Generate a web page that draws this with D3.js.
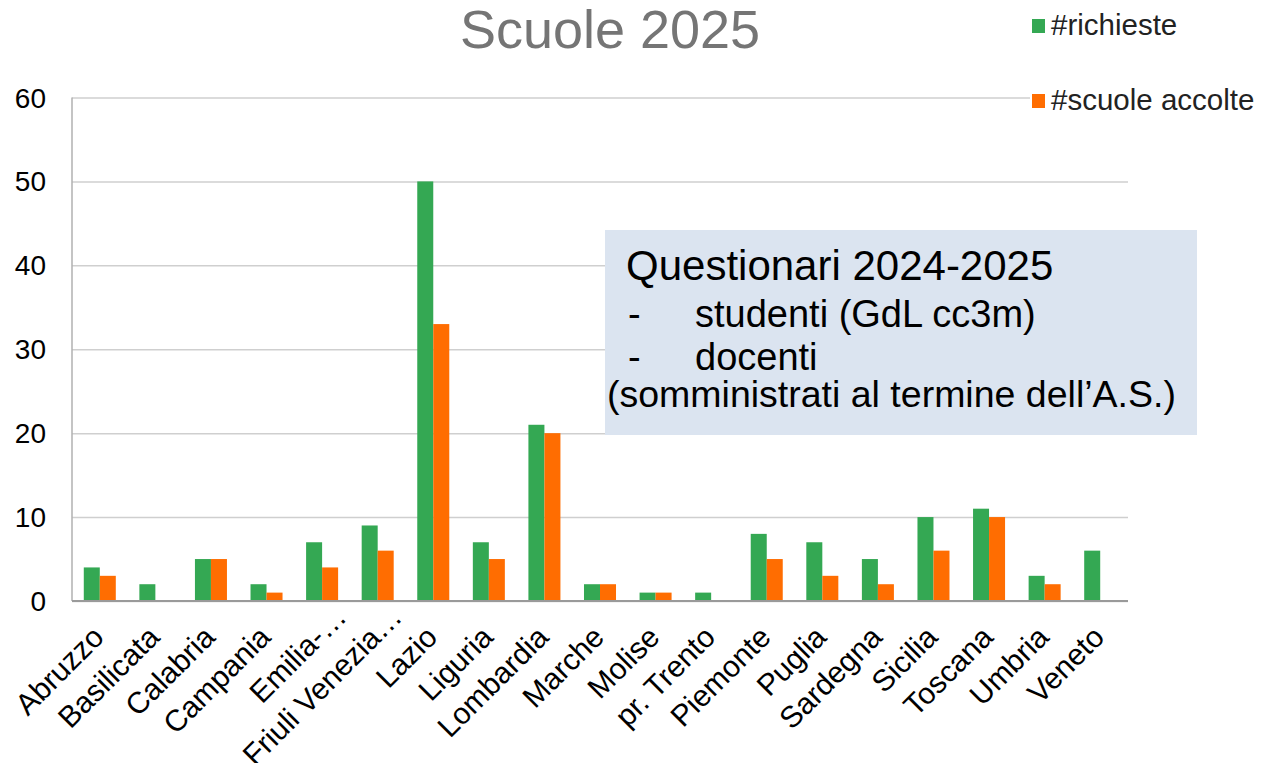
<!DOCTYPE html>
<html lang="it">
<head>
  <meta charset="UTF-8">
  <title>Scuole 2025</title>
  <script src="https://d3js.org/d3.v7.min.js"></script>
  <style>
    body { margin: 0; background: #fff; }
    text { font-family: "Liberation Sans", Arial, Helvetica, sans-serif; }
    .grid line { stroke: #cfcfcf; stroke-width: 1.5; }
    .grid path { display: none; }
  </style>
</head>
<body>
<div id="chart"></div>
<script>
// data
var categories = ["Abruzzo", "Basilicata", "Calabria", "Campania", "Emilia-\u2026",
  "Friuli Venezia\u2026", "Lazio", "Liguria", "Lombardia", "Marche", "Molise",
  "pr. Trento", "Piemonte", "Puglia", "Sardegna", "Sicilia", "Toscana", "Umbria", "Veneto"];
var richieste = [4, 2, 5, 2, 7, 9, 50, 7, 21, 2, 1, 1, 8, 7, 5, 10, 11, 3, 6];
var accolte   = [3, 0, 5, 1, 4, 6, 33, 5, 20, 2, 1, 0, 5, 3, 2, 6, 10, 2, 0];
var seriesNames = ["#richieste", "#scuole accolte"];
var seriesColors = ["#34a853", "#ff6d01"];
var yTicks = [0, 10, 20, 30, 40, 50, 60];

var width = 1263, height = 763;
var plotLeft = 72, plotRight = 1128, plotTop = 97.5, plotBottom = 601;

var svg = d3.select("#chart").append("svg")
  .attr("width", width)
  .attr("height", height);

var x = d3.scaleBand()
  .domain(categories)
  .range([plotLeft, plotRight])
  .paddingInner(0.424)
  .paddingOuter(0.212);

var xSub = d3.scaleBand()
  .domain(seriesNames)
  .range([0, x.bandwidth()]);

var y = d3.scaleLinear()
  .domain([0, 60])
  .range([plotBottom, plotTop]);

// gridlines
svg.append("g")
  .attr("class", "grid")
  .attr("transform", "translate(" + plotLeft + ",0)")
  .call(d3.axisLeft(y).tickValues(yTicks).tickSize(-(plotRight - plotLeft)).tickFormat(""));

// y tick labels
svg.append("g").selectAll("text")
  .data(yTicks).enter()
  .append("text")
    .attr("x", 46)
    .attr("y", function(d) { return y(d); })
    .attr("dy", "0.36em")
    .attr("text-anchor", "end")
    .style("font-size", "28px")
    .style("fill", "#000")
    .text(function(d) { return d; });

// bars
var rows = categories.map(function(c, i) {
  return { cat: c, values: [richieste[i], accolte[i]] };
});

var groups = svg.append("g").selectAll("g")
  .data(rows).enter()
  .append("g")
    .attr("transform", function(d) { return "translate(" + x(d.cat) + ",0)"; });

groups.selectAll("rect")
  .data(function(d) { return d.values.map(function(v, j) { return { s: seriesNames[j], v: v, j: j }; }); })
  .enter().append("rect")
    .attr("x", function(d) { return xSub(d.s); })
    .attr("y", function(d) { return y(d.v); })
    .attr("width", xSub.bandwidth())
    .attr("height", function(d) { return y(0) - y(d.v); })
    .attr("fill", function(d) { return seriesColors[d.j]; });

// axis lines
svg.append("line")
  .attr("x1", plotLeft).attr("x2", plotLeft)
  .attr("y1", plotTop).attr("y2", plotBottom)
  .attr("stroke", "#b0b0b0").attr("stroke-width", 1.5);
svg.append("line")
  .attr("x1", plotLeft).attr("x2", plotRight)
  .attr("y1", plotBottom).attr("y2", plotBottom)
  .attr("stroke", "#9a9a9a").attr("stroke-width", 2);

// category labels (truncated ones sit a bit further along, as in the original)
svg.append("g").selectAll("text")
  .data(categories).enter()
  .append("text")
    .attr("transform", function(d) {
      return "translate(" + (x(d) + x.bandwidth() / 2 - 9) + "," + (plotBottom + 23) + ") rotate(-45)";
    })
    .attr("dy", "0.7em")
    .attr("dx", function(d) { return d.slice(-1) === "\u2026" ? "0.95em" : 0; })
    .attr("text-anchor", "end")
    .style("font-size", "30px")
    .style("fill", "#000")
    .text(function(d) { return d; });

// title
svg.append("text")
  .attr("x", 610)
  .attr("y", 48)
  .attr("text-anchor", "middle")
  .style("font-size", "54px")
  .style("fill", "#757575")
  .text("Scuole 2025");

// legend (white backing cuts the top gridline like in the original)
svg.append("rect")
  .attr("x", 1030).attr("y", 0)
  .attr("width", 233).attr("height", 125)
  .attr("fill", "#fff");

var legend = svg.append("g").selectAll("g")
  .data(seriesNames).enter()
  .append("g")
    .attr("transform", function(d, i) { return "translate(1032," + (i === 0 ? 35 : 110) + ")"; });

legend.append("rect")
  .attr("x", 0).attr("y", -16)
  .attr("width", 13).attr("height", 14)
  .attr("fill", function(d, i) { return seriesColors[i]; });

legend.append("text")
  .attr("x", 19)
  .attr("y", 0)
  .style("font-size", "29.5px")
  .style("fill", "#222")
  .text(function(d) { return d; });

// note box
var note = svg.append("g");
note.append("rect")
  .attr("x", 605).attr("y", 230)
  .attr("width", 592).attr("height", 205)
  .attr("fill", "#dbe4f0");

note.append("text")
  .attr("x", 626).attr("y", 280)
  .style("font-size", "42px")
  .text("Questionari 2024-2025");

var bullets = [["studenti (GdL cc3m)", 327], ["docenti", 370]];
bullets.forEach(function(b) {
  var line = note.append("text").attr("y", b[1]).style("font-size", "38px");
  line.append("tspan").attr("x", 628).text("-");
  line.append("tspan").attr("x", 695).text(b[0]);
});

note.append("text")
  .attr("x", 607).attr("y", 407)
  .style("font-size", "37.5px")
  .text("(somministrati al termine dell\u2019A.S.)");
</script>
</body>
</html>
